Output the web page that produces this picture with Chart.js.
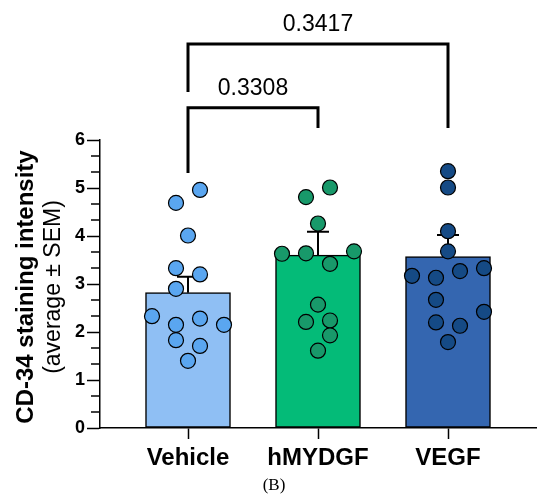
<!DOCTYPE html>
<html lang="en">
<head>
    <meta charset="UTF-8">
    <title>CD-34 staining intensity</title>
    <script src="https://cdn.jsdelivr.net/npm/chart.js"></script>
    <style>
        body { margin: 0; background: #fff; }
        .chart-container { position: relative; width: 550px; height: 503px; }
    </style>
</head>
<body>
    <div class="chart-container">
        <canvas id="cd34Chart"></canvas>
    </div>

    <script>
        // data
        var categories = ['Vehicle', 'hMYDGF', 'VEGF'];
        var means = [2.82, 3.60, 3.57];
        var sems = [0.33, 0.49, 0.45];

        var vehicleValues = [4.96, 4.69, 4.01, 3.33, 3.20, 2.90, 2.33, 2.28, 2.15, 2.15, 1.83, 1.71, 1.40];
        var vehicleSlots  = [1, -1, 0, -1, 1, -1, -3, 1, -1, 3, -1, 1, 0];
        var mydgfValues = [5.01, 4.81, 4.26, 3.63, 3.64, 3.68, 3.42, 2.57, 2.21, 2.24, 1.93, 1.61];
        var mydgfSlots  = [1, -1, 0, -3, -1, 3, 1, 0, -1, 1, 1, 0];
        var vegfValues = [5.35, 5.01, 4.10, 3.68, 3.17, 3.13, 3.27, 3.33, 2.67, 2.42, 2.20, 2.13, 1.79];
        var vegfSlots  = [0, 0, 0, 0, -3, -1, 1, 3, -1, 3, -1, 1, 0];

        var yTicks = [0, 1, 2, 3, 4, 5, 6];

        // comparisons: [from, to], p value, heights in axis units
        var pairs = [[0, 1], [0, 2]];
        var pLabels = ['0.3308', '0.3417'];
        var bracketTop = [6.67, 8.0];
        var bracketLeftEnd = [5.31, 7.0];
        var bracketRightEnd = [6.25, 6.25];

        var barColors = ['#8fbff4', '#04bb78', '#3466b0'];
        var dotColors = ['#5aa6f0', '#18996a', '#154a85'];
        var slotWidth = 12 / 130;
        var sans = '"Liberation Sans", Arial, sans-serif';

        function toPoints(index, values, slots) {
            return values.map(function (v, i) {
                return { x: index + slots[i] * slotWidth, y: v };
            });
        }

        var groups = [
            toPoints(0, vehicleValues, vehicleSlots),
            toPoints(1, mydgfValues, mydgfSlots),
            toPoints(2, vegfValues, vegfSlots)
        ];

        var datasets = [{
            type: 'bar',
            data: means.map(function (m, i) { return { x: i, y: m }; }),
            backgroundColor: barColors,
            borderColor: '#000',
            borderWidth: 1.5,
            borderSkipped: false,
            barThickness: 85,
            order: 2
        }];
        groups.forEach(function (pts, i) {
            datasets.push({
                type: 'scatter',
                data: pts,
                pointRadius: 7.5,
                pointBackgroundColor: dotColors[i],
                pointBorderColor: '#000',
                pointBorderWidth: 1.2,
                order: 1
            });
        });

        // error bars drawn right after the bars, under the dots
        var errorBars = {
            id: 'errorBars',
            afterDatasetDraw: function (chart, args) {
                if (args.index !== 0) return;
                var ctx = chart.ctx;
                var y = chart.scales.y;
                ctx.save();
                ctx.strokeStyle = '#000';
                ctx.lineWidth = 2;
                args.meta.data.forEach(function (el, i) {
                    var top = y.getPixelForValue(means[i] + sems[i]);
                    ctx.beginPath();
                    ctx.moveTo(el.x, el.y);
                    ctx.lineTo(el.x, top);
                    ctx.moveTo(el.x - 11, top);
                    ctx.lineTo(el.x + 11, top);
                    ctx.stroke();
                });
                ctx.restore();
            }
        };

        var extras = {
            id: 'extras',
            afterDraw: function (chart) {
                var ctx = chart.ctx;
                var x = chart.scales.x;
                var y = chart.scales.y;
                ctx.save();

                // minor ticks on the y axis
                ctx.strokeStyle = '#000';
                ctx.lineWidth = 1.5;
                for (var k = 0; k < 6; k++) {
                    [1 / 3, 2 / 3].forEach(function (f) {
                        var py = y.getPixelForValue(k + f);
                        ctx.beginPath();
                        ctx.moveTo(y.right - 9, py);
                        ctx.lineTo(y.right, py);
                        ctx.stroke();
                    });
                }

                // comparison brackets
                ctx.lineWidth = 3;
                ctx.lineCap = 'butt';
                ctx.fillStyle = '#000';
                ctx.font = '23px ' + sans;
                ctx.textAlign = 'center';
                ctx.textBaseline = 'alphabetic';
                pairs.forEach(function (p, i) {
                    var x1 = x.getPixelForValue(p[0]);
                    var x2 = x.getPixelForValue(p[1]);
                    var yt = y.getPixelForValue(bracketTop[i]);
                    ctx.beginPath();
                    ctx.moveTo(x1, y.getPixelForValue(bracketLeftEnd[i]));
                    ctx.lineTo(x1, yt);
                    ctx.lineTo(x2, yt);
                    ctx.lineTo(x2, y.getPixelForValue(bracketRightEnd[i]));
                    ctx.stroke();
                    ctx.fillText(pLabels[i], (x1 + x2) / 2, yt - 13);
                });

                // y axis title, two lines
                var cy = (y.top + y.bottom) / 2 + 3;
                ctx.translate(26, cy);
                ctx.rotate(-Math.PI / 2);
                ctx.textBaseline = 'middle';
                ctx.font = 'bold 24px ' + sans;
                ctx.fillText('CD-34 staining intensity', 0, 0);
                ctx.font = '23px ' + sans;
                ctx.fillText('(average \u00b1 SEM)', 0, 28);
                ctx.restore();

                // panel caption
                ctx.save();
                ctx.fillStyle = '#000';
                ctx.font = '17px "Liberation Serif", "Times New Roman", serif';
                ctx.textAlign = 'center';
                ctx.textBaseline = 'middle';
                ctx.fillText('(B)', 274, 486);
                ctx.restore();
            }
        };

        var ctx = document.getElementById('cd34Chart').getContext('2d');
        var cd34Chart = new Chart(ctx, {
            type: 'bar',
            data: { datasets: datasets },
            plugins: [errorBars, extras],
            options: {
                responsive: true,
                maintainAspectRatio: false,
                animation: false,
                layout: { padding: { top: 140, right: 14, left: 0, bottom: 0 } },
                plugins: {
                    legend: { display: false },
                    tooltip: { enabled: false }
                },
                scales: {
                    x: {
                        type: 'linear',
                        offset: false,
                        min: -88 / 130,
                        max: 2 + 88 / 130,
                        afterBuildTicks: function (scale) {
                            scale.ticks = categories.map(function (c, i) { return { value: i }; });
                        },
                        afterFit: function (scale) { scale.height = 75; },
                        ticks: {
                            callback: function (v) { return categories[v]; },
                            color: '#000',
                            font: { family: sans, size: 24, weight: 'bold' },
                            padding: 5,
                            maxRotation: 0,
                            autoSkip: false
                        },
                        grid: {
                            offset: false,
                            drawOnChartArea: false,
                            drawTicks: true,
                            tickLength: 11,
                            tickColor: '#000',
                            tickWidth: 1.5
                        },
                        border: { color: '#000', width: 1.5 }
                    },
                    y: {
                        min: 0,
                        max: 6,
                        afterBuildTicks: function (scale) {
                            scale.ticks = yTicks.map(function (v) { return { value: v }; });
                        },
                        afterFit: function (scale) { scale.width = 100; },
                        ticks: {
                            color: '#000',
                            font: { family: sans, size: 18, weight: 'bold' },
                            padding: 2
                        },
                        grid: {
                            drawOnChartArea: false,
                            drawTicks: true,
                            tickLength: 13,
                            tickColor: '#000',
                            tickWidth: 1.5
                        },
                        border: { color: '#000', width: 1.5 }
                    }
                }
            }
        });
    </script>
</body>
</html>
